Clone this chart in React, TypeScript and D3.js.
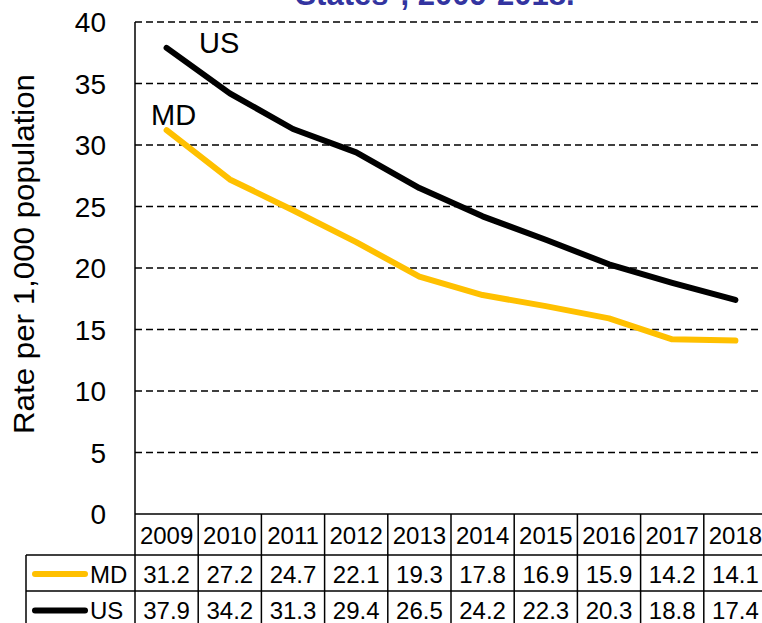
import React, { useEffect, useRef } from 'react';
import * as d3 from 'd3';

const years = ['2009', '2010', '2011', '2012', '2013', '2014', '2015', '2016', '2017', '2018'];
const mdRates = [31.2, 27.2, 24.7, 22.1, 19.3, 17.8, 16.9, 15.9, 14.2, 14.1];
const usRates = [37.9, 34.2, 31.3, 29.4, 26.5, 24.2, 22.3, 20.3, 18.8, 17.4];
const yTicks = [0, 5, 10, 15, 20, 25, 30, 35, 40];

const series = [
  { name: 'MD', values: mdRates, color: '#FFC000' },
  { name: 'US', values: usRates, color: '#000000' },
];

const App = () => {
  const svgRef = useRef<SVGSVGElement>(null);

  useEffect(() => {
    if (!svgRef.current) return;
    const svg = d3.select(svgRef.current);
    svg.selectAll('*').remove();

    const height = 623;
    const left = 135;
    const right = 767;
    const top = 22;
    const bottom = 514;
    const font = 'Liberation Sans, Arial, sans-serif';

    // scales
    const x = d3.scaleBand().domain(years).range([left, right]);
    const y = d3.scaleLinear().domain([0, 40]).range([bottom, top]);

    // title (cut off at the top, as in the source)
    svg.append('text')
      .attr('x', 435)
      .attr('y', 5)
      .attr('text-anchor', 'middle')
      .attr('font-family', font)
      .attr('font-weight', 'bold')
      .attr('font-size', 31)
      .attr('fill', '#3334A0')
      .text('States*, 2009-2018.');

    // gridlines
    svg.append('g')
      .selectAll('line')
      .data(yTicks.filter(d => d > 0))
      .join('line')
      .attr('x1', left)
      .attr('x2', right)
      .attr('y1', d => y(d))
      .attr('y2', d => y(d))
      .attr('stroke', '#000')
      .attr('stroke-width', 1.5)
      .attr('stroke-dasharray', '7,4');

    // left axis line
    svg.append('line')
      .attr('x1', left).attr('x2', left)
      .attr('y1', top).attr('y2', bottom)
      .attr('stroke', '#000').attr('stroke-width', 1.5);

    // y tick labels
    svg.append('g')
      .selectAll('text')
      .data(yTicks)
      .join('text')
      .attr('x', 106)
      .attr('y', d => y(d))
      .attr('dy', '0.36em')
      .attr('text-anchor', 'end')
      .attr('font-family', font)
      .attr('font-size', 28)
      .text(d => d);

    // y axis title
    svg.append('text')
      .attr('transform', 'translate(34,254) rotate(-90)')
      .attr('text-anchor', 'middle')
      .attr('font-family', font)
      .attr('font-size', 29)
      .attr('textLength', 360)
      .attr('lengthAdjust', 'spacingAndGlyphs')
      .text('Rate per 1,000 population');

    // lines
    const line = d3.line<number>()
      .x((_, i) => (x(years[i]) as number) + x.bandwidth() / 2)
      .y(d => y(d));

    series.forEach(s => {
      svg.append('path')
        .datum(s.values)
        .attr('d', line)
        .attr('fill', 'none')
        .attr('stroke', s.color)
        .attr('stroke-width', 6)
        .attr('stroke-linecap', 'round')
        .attr('stroke-linejoin', 'round');
    });

    // series labels
    svg.append('text')
      .attr('x', 199).attr('y', 53)
      .attr('font-family', font).attr('font-size', 29)
      .text('US');
    svg.append('text')
      .attr('x', 151).attr('y', 125)
      .attr('font-family', font).attr('font-size', 29)
      .text('MD');

    // data table
    const rowTops = [514, 555, 591, 628];
    const legendLeft = 26;
    const table = svg.append('g').attr('stroke', '#000').attr('stroke-width', 1.5);

    table.append('line').attr('x1', left).attr('x2', right).attr('y1', rowTops[0]).attr('y2', rowTops[0]);
    table.append('line').attr('x1', legendLeft).attr('x2', right).attr('y1', rowTops[1]).attr('y2', rowTops[1]);
    table.append('line').attr('x1', legendLeft).attr('x2', right).attr('y1', rowTops[2]).attr('y2', rowTops[2]);
    table.append('line').attr('x1', legendLeft).attr('x2', legendLeft).attr('y1', rowTops[1]).attr('y2', height);

    table.selectAll('line.col')
      .data(years.concat(['end']))
      .join('line')
      .attr('class', 'col')
      .attr('x1', (d, i) => left + i * x.bandwidth())
      .attr('x2', (d, i) => left + i * x.bandwidth())
      .attr('y1', rowTops[0])
      .attr('y2', height);

    // header years
    svg.append('g')
      .selectAll('text')
      .data(years)
      .join('text')
      .attr('x', d => (x(d) as number) + x.bandwidth() / 2)
      .attr('y', (rowTops[0] + rowTops[1]) / 2 + 1)
      .attr('dy', '0.36em')
      .attr('text-anchor', 'middle')
      .attr('font-family', font)
      .attr('font-size', 24)
      .text(d => d);

    series.forEach((s, r) => {
      const cy = (rowTops[r + 1] + rowTops[r + 2]) / 2 + 1;
      svg.append('line')
        .attr('x1', 35).attr('x2', 85)
        .attr('y1', cy).attr('y2', cy)
        .attr('stroke', s.color)
        .attr('stroke-width', 6)
        .attr('stroke-linecap', 'round');
      svg.append('text')
        .attr('x', 90).attr('y', cy)
        .attr('dy', '0.36em')
        .attr('font-family', font)
        .attr('font-size', 24)
        .text(s.name);
      svg.append('g')
        .selectAll('text')
        .data(s.values)
        .join('text')
        .attr('x', (_, i) => (x(years[i]) as number) + x.bandwidth() / 2)
        .attr('y', cy)
        .attr('dy', '0.36em')
        .attr('text-anchor', 'middle')
        .attr('font-family', font)
        .attr('font-size', 24)
        .text(d => d.toFixed(1));
    });
  }, []);

  return (
    <svg
      ref={svgRef}
      width={762}
      height={623}
      style={{ position: 'absolute', left: 0, top: 0, background: '#fff', overflow: 'hidden' }}
    />
  );
};

export default App;
